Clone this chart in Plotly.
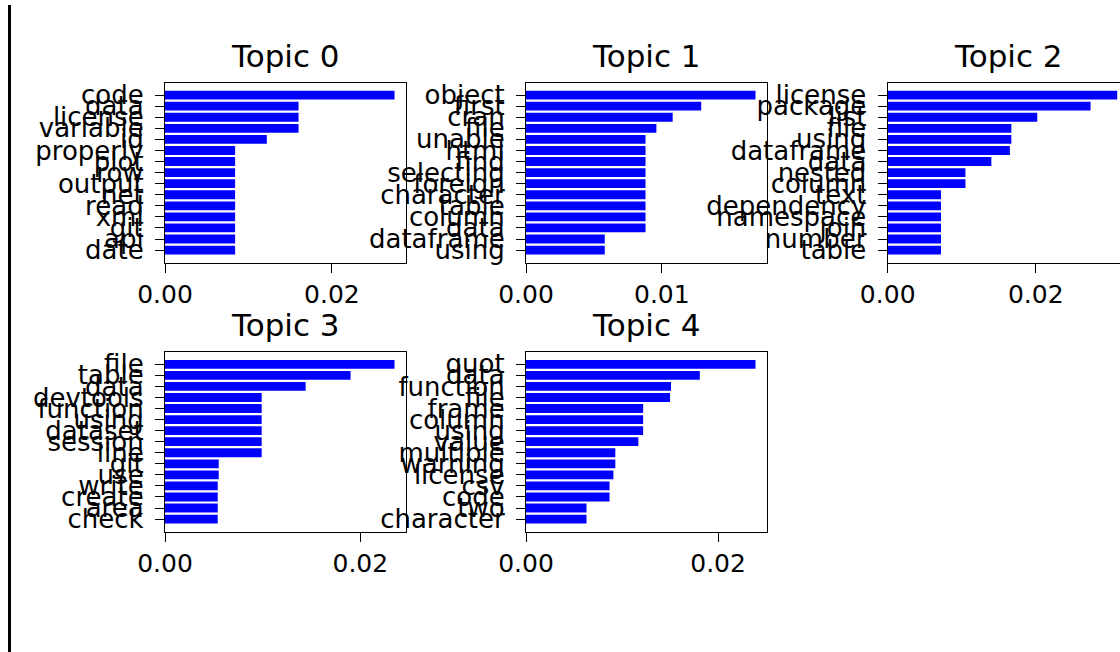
import plotly.graph_objects as go

topic_titles = ["Topic 0", "Topic 1", "Topic 2", "Topic 3", "Topic 4"]

topic0_words = ["code", "data", "license", "variable", "id", "properly", "plot", "row",
                "output", "net", "read", "xml", "git", "api", "date"]
topic0_vals = [0.0275, 0.0160, 0.0160, 0.0160, 0.0122, 0.0084, 0.0084, 0.0084,
               0.0084, 0.0084, 0.0084, 0.0084, 0.0084, 0.0084, 0.0084]

topic1_words = ["object", "first", "cran", "file", "unable", "html", "find", "selecting",
                "foreign", "character", "table", "column", "data", "dataframe", "using"]
topic1_vals = [0.0169, 0.0129, 0.0108, 0.0096, 0.0088, 0.0088, 0.0088, 0.0088,
               0.0088, 0.0088, 0.0088, 0.0088, 0.0088, 0.0058, 0.0058]

topic2_words = ["license", "package", "list", "file", "using", "dataframe", "data", "nested",
                "column", "text", "dependency", "namespace", "join", "number", "table"]
topic2_vals = [0.0310, 0.0274, 0.0202, 0.0167, 0.0167, 0.0165, 0.0140, 0.0105,
               0.0105, 0.0072, 0.0072, 0.0072, 0.0072, 0.0072, 0.0072]

topic3_words = ["file", "table", "data", "devtools", "function", "using", "dataset", "session",
                "line", "git", "use", "write", "create", "area", "check"]
topic3_vals = [0.0235, 0.0190, 0.0144, 0.0099, 0.0099, 0.0099, 0.0099, 0.0099,
               0.0099, 0.0055, 0.0055, 0.0054, 0.0054, 0.0054, 0.0054]

topic4_words = ["quot", "data", "function", "file", "frame", "column", "using", "value",
                "multiple", "warning", "license", "csv", "code", "two", "character"]
topic4_vals = [0.0239, 0.0181, 0.0151, 0.0150, 0.0122, 0.0122, 0.0122, 0.0117,
               0.0093, 0.0093, 0.0091, 0.0087, 0.0087, 0.0063, 0.0063]

x_dticks = [0.02, 0.01, 0.02, 0.02, 0.02]

words_all = [topic0_words, topic1_words, topic2_words, topic3_words, topic4_words]
vals_all = [topic0_vals, topic1_vals, topic2_vals, topic3_vals, topic4_vals]

W, H = 1120, 652
# axes pixel boxes (left, right, top, bottom)
col_x = [(165, 406), (526, 767), (887.7, 1120)]
row_y = [(82.5, 262.7), (351.7, 531.7)]
full_axis_w = 241.0

FONT = "DejaVu Sans"
fig = go.Figure()
annotations = []

for i in range(5):
    r, c = divmod(i, 3)
    xl, xr = col_x[c]
    yt, yb = row_y[r]
    ax_id = "" if i == 0 else str(i + 1)
    words = words_all[i]
    vals = vals_all[i]
    n = len(words)
    fig.add_trace(go.Bar(
        x=vals, y=words, orientation="h",
        marker=dict(color="#0000ff", line=dict(width=0)),
        xaxis="x" + ax_id, yaxis="y" + ax_id, showlegend=False,
    ))
    vmax = max(vals) * 1.05
    clip = (xr - xl) / full_axis_w
    m = 0.05 * (n - 1 + 0.8)
    xa = dict(
        domain=[xl / W, xr / W], range=[0, vmax * clip], anchor="y" + ax_id,
        automargin=False,
        showline=True, linecolor="black", linewidth=1.3, mirror=True,
        ticks="outside", ticklen=9, tickwidth=1.3, tickcolor="black",
        tick0=0, dtick=x_dticks[i], tickformat=".2f",
        showgrid=False, zeroline=False,
        tickfont=dict(family=FONT, size=25, color="black"),
    )
    ya = dict(
        domain=[1 - yb / H, 1 - yt / H], anchor="x" + ax_id,
        automargin=False,
        type="category", range=[n - 0.6 + m, -0.4 - m],
        tickmode="array", tickvals=words, ticktext=words,
        showline=True, linecolor="black", linewidth=1.3, mirror=(c != 2),
        ticks="outside", ticklen=9, tickwidth=1.3, tickcolor="black",
        ticklabelstandoff=6,
        showgrid=False, zeroline=False,
        tickfont=dict(family=FONT, size=26, color="black"),
    )
    fig.layout["xaxis" + ax_id] = xa
    fig.layout["yaxis" + ax_id] = ya
    title_y = 56 if r == 0 else 325
    annotations.append(dict(
        text=topic_titles[i], x=(xl + xl + full_axis_w) / 2 / W, y=1 - title_y / H,
        xref="paper", yref="paper", xanchor="center", yanchor="middle",
        showarrow=False, font=dict(family=FONT, size=31, color="black"),
    ))

fig.update_layout(
    width=W, height=H,
    margin=dict(l=0, r=0, t=0, b=0, autoexpand=False),
    paper_bgcolor="white", plot_bgcolor="white",
    bargap=0.2,
    annotations=annotations,
    shapes=[dict(type="line", xref="paper", yref="paper",
                 x0=9.5 / W, x1=9.5 / W, y0=0, y1=1 - 5 / H,
                 line=dict(color="black", width=3))],
)

fig.write_html("out.html")
